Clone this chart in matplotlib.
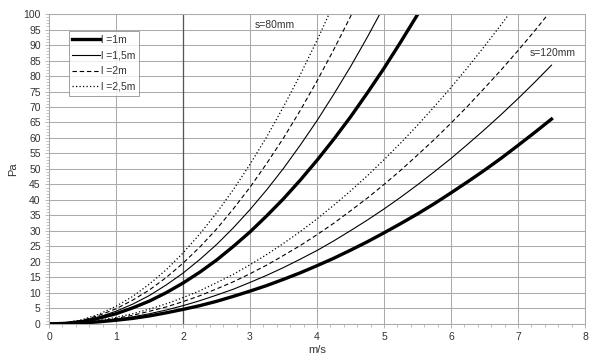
import matplotlib
matplotlib.use('Agg')
import matplotlib.pyplot as plt
from matplotlib.ticker import MultipleLocator

plt.rcParams['font.family'] = ['Liberation Sans', 'DejaVu Sans']

# air speed, m/s
speed = [0, 0.25, 0.5, 0.75, 1, 1.25, 1.5, 1.75, 2, 2.25, 2.5, 2.75, 3, 3.25, 3.5, 3.75,
         4, 4.25, 4.5, 4.75, 5, 5.25, 5.5, 5.75, 6, 6.25, 6.5, 6.75, 7, 7.25, 7.5]

# pressure drop, Pa, s=80mm
s80_l1 = [0, 0.2, 0.8, 1.9, 3.3, 5.2, 7.4, 10.1, 13.2, 16.7, 20.6, 25.0, 29.7, 34.9, 40.4, 46.4,
          52.8, 59.6, 66.8, 74.5, 82.5, 91.0, 99.8, 109.1]
s80_l15 = [0, 0.3, 1.0, 2.3, 4.1, 6.4, 9.2, 12.6, 16.4, 20.8, 25.6, 31.0, 36.9, 43.3, 50.2, 57.7,
           65.6, 74.1, 83.0, 92.5, 102.5]
s80_l2 = [0, 0.3, 1.2, 2.8, 4.9, 7.7, 11.0, 15.0, 19.6, 24.8, 30.6, 37.1, 44.1, 51.8, 60.0, 68.9,
          78.4, 88.5, 99.2, 110.6]
s80_l25 = [0, 0.4, 1.4, 3.2, 5.7, 8.9, 12.9, 17.5, 22.9, 29.0, 35.8, 43.3, 51.5, 60.4, 70.1, 80.4,
           91.5, 103.3]

# pressure drop, Pa, s=120mm
s120_l1 = [0, 0.1, 0.3, 0.7, 1.2, 1.8, 2.6, 3.6, 4.7, 5.9, 7.3, 8.9, 10.6, 12.4, 14.4, 16.5,
           18.8, 21.2, 23.8, 26.5, 29.4, 32.4, 35.5, 38.8, 42.3, 45.9, 49.6, 53.5, 57.6, 61.8, 66.1]
s120_l15 = [0, 0.1, 0.4, 0.8, 1.5, 2.3, 3.3, 4.5, 5.9, 7.5, 9.3, 11.2, 13.4, 15.7, 18.2, 20.9,
            23.7, 26.8, 30.1, 33.5, 37.1, 40.9, 44.9, 49.1, 53.4, 58.0, 62.7, 67.6, 72.7, 78.0, 83.5]
s120_l2 = [0, 0.1, 0.5, 1.0, 1.8, 2.8, 4.1, 5.5, 7.2, 9.1, 11.3, 13.6, 16.2, 19.0, 22.1, 25.3,
           28.8, 32.5, 36.5, 40.6, 45.0, 49.6, 54.5, 59.5, 64.8, 70.3, 76.1, 82.0, 88.2, 94.6, 101.3]
s120_l25 = [0, 0.1, 0.5, 1.2, 2.1, 3.3, 4.8, 6.5, 8.5, 10.7, 13.3, 16.0, 19.1, 22.4, 26.0, 29.8,
            33.9, 38.3, 42.9, 47.8, 53.0, 58.4, 64.1, 70.1, 76.3, 82.8, 89.6, 96.6, 103.9]

labels = ['l =1m', 'l =1,5m', 'l =2m', 'l =2,5m']
styles = [
    dict(lw=2.4, ls='-'),
    dict(lw=0.8, ls='-'),
    dict(lw=0.8, ls=(0, (4, 2.5))),
    dict(lw=0.9, ls=(0, (1, 1.8))),
]

fig = plt.figure(figsize=(6, 3.64), dpi=100)
ax = fig.add_axes([0.0817, 0.110, 0.8933, 0.8515])

grid_c = '#ababab'
ax.set_xlim(0, 8)
ax.set_ylim(0, 100)
ax.xaxis.set_major_locator(MultipleLocator(1))
ax.xaxis.set_minor_locator(MultipleLocator(0.2))
ax.yaxis.set_major_locator(MultipleLocator(5))
ax.yaxis.set_minor_locator(MultipleLocator(1))
ax.grid(True, which='major', color=grid_c, lw=0.75)
ax.axvline(2, color='#555555', lw=0.9, zorder=1)
ax.set_axisbelow(True)

for name, sp in ax.spines.items():
    sp.set_color(grid_c)
    sp.set_linewidth(0.75)

ax.tick_params(which='both', colors=grid_c, labelcolor='#333333', labelsize=7.5)
ax.tick_params(which='major', length=3, width=0.6, pad=3)
ax.tick_params(which='minor', length=2, width=0.5)

s80 = [s80_l1, s80_l15, s80_l2, s80_l25]
s120 = [s120_l1, s120_l15, s120_l2, s120_l25]
for vals, lab, st in zip(s80, labels, styles):
    ax.plot(speed[:len(vals)], vals, color='black', label=lab, **st)
for vals, st in zip(s120, styles):
    ax.plot(speed[:len(vals)], vals, color='black', **st)

ax.text(3.07, 96.5, 's=80mm', fontsize=7.5, color='#333333', va='center', ha='left')
ax.text(7.18, 87.4, 's=120mm', fontsize=7.5, color='#333333', va='center', ha='left')

leg = ax.legend(loc='upper left', bbox_to_anchor=(0.037, 0.945), borderaxespad=0,
                fontsize=7.5, frameon=True, fancybox=False, handlelength=2.6,
                handletextpad=0.1, labelspacing=0.55, borderpad=0.35)
leg.get_frame().set_edgecolor('#888888')
leg.get_frame().set_linewidth(0.7)
for t in leg.get_texts():
    t.set_color('#333333')

ax.set_xlabel('m/s', fontsize=8, color='#333333', labelpad=2)
ax.set_ylabel('Pa', fontsize=8, color='#333333', labelpad=4)

fig.savefig('out.png', dpi=100)
